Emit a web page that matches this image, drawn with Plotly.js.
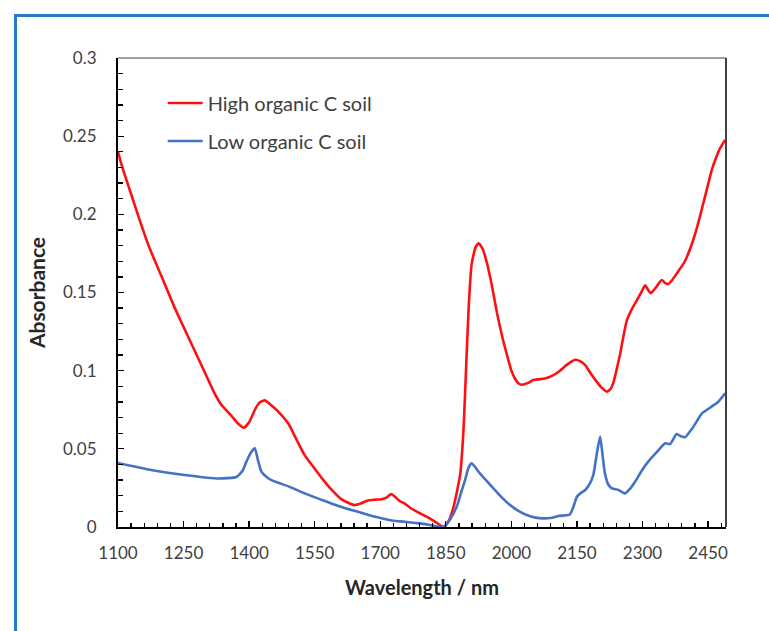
<!DOCTYPE html>
<html>
<head>
<meta charset="utf-8">
<script src="https://cdn.plot.ly/plotly-3.0.1.min.js"></script>
<style>
  html, body { margin: 0; padding: 0; background: #ffffff; }
  #wrap { position: relative; width: 769px; height: 631px; overflow: hidden; }
  #chart { position: absolute; left: 0; top: 0; width: 769px; height: 631px; }
  #frame { position: absolute; left: 14px; top: 14px; width: 900px; height: 800px;
           border: 3px solid #2A78C9; pointer-events: none; }
</style>
</head>
<body>
<div id="wrap">
  <div id="chart"></div>
  <div id="frame"></div>
</div>
<script>
// High organic C soil
const wlHigh = [1100,1110,1130,1150,1170,1200,1230,1250,1280,1300,1320,1337,1360,1375,1388,1400,1415,1425,1436,1450,1466,1490,1510,1527,1551,1570,1588,1610,1630,1641,1655,1672,1690,1703,1715,1725,1735,1745,1756,1770,1786,1806,1825,1845,1855,1867,1875,1883,1890,1894,1902,1909,1918,1925,1934,1944,1955,1967,1978,1989,2000,2008,2016,2024,2037,2050,2064,2077,2095,2111,2128,2146,2158,2169,2182,2195,2207,2218,2226,2233,2241,2249,2257,2264,2275,2287,2297,2306,2312,2319,2330,2344,2352,2359,2368,2378,2397,2416,2428,2439,2449,2458,2468,2477,2489];
const absHigh = [0.240,0.230,0.213,0.196,0.180,0.160,0.140,0.128,0.110,0.098,0.086,0.078,0.071,0.066,0.0635,0.067,0.076,0.080,0.081,0.078,0.074,0.066,0.055,0.046,0.037,0.030,0.024,0.018,0.015,0.014,0.015,0.017,0.0175,0.0178,0.019,0.021,0.019,0.0165,0.015,0.012,0.0095,0.0066,0.0035,0.0,0.003,0.012,0.022,0.034,0.060,0.085,0.139,0.168,0.179,0.1815,0.178,0.169,0.155,0.137,0.123,0.111,0.100,0.095,0.092,0.091,0.092,0.094,0.0945,0.095,0.097,0.100,0.104,0.107,0.106,0.1036,0.098,0.093,0.089,0.0866,0.088,0.092,0.101,0.111,0.123,0.132,0.139,0.145,0.150,0.1546,0.152,0.1495,0.153,0.158,0.156,0.1554,0.158,0.162,0.170,0.1836,0.195,0.207,0.218,0.228,0.236,0.242,0.2476];

// Low organic C soil
const wlLow = [1100,1176,1253,1329,1371,1385,1394,1405,1413,1420,1428,1440,1451,1490,1527,1560,1588,1620,1649,1675,1703,1730,1756,1791,1820,1844,1860,1875,1885,1894,1902,1909,1918,1928,1945,1959,1978,1997,2015,2035,2055,2073,2090,2108,2125,2134,2142,2150,2160,2169,2180,2188,2196,2203,2209,2214,2222,2230,2245,2260,2270,2283,2296,2310,2333,2352,2363,2378,2388,2397,2416,2436,2458,2473,2489];
const absLow = [0.041,0.0365,0.0333,0.031,0.032,0.036,0.042,0.048,0.0503,0.043,0.0354,0.032,0.030,0.026,0.0215,0.018,0.015,0.012,0.0098,0.0075,0.0056,0.004,0.0034,0.0023,0.001,0.0,0.005,0.013,0.022,0.030,0.038,0.0407,0.038,0.0343,0.029,0.0247,0.019,0.014,0.0105,0.0077,0.006,0.0055,0.0058,0.007,0.0075,0.008,0.013,0.0194,0.022,0.0237,0.028,0.034,0.048,0.0578,0.045,0.0343,0.027,0.0247,0.0237,0.0215,0.024,0.029,0.035,0.0407,0.048,0.0535,0.053,0.0595,0.058,0.0574,0.064,0.0727,0.077,0.080,0.0855];

const seriesNames = ["High organic C soil", "Low organic C soil"];
const xTickVals = [1100,1250,1400,1550,1700,1850,2000,2150,2300,2450];
const yTickVals = [0,0.05,0.1,0.15,0.2,0.25,0.3];
const yTickText = ["0","0.05","0.1","0.15","0.2","0.25","0.3"];

const FONT = "Lato, 'Open Sans', sans-serif";

const traces = [
  { x: wlHigh, y: absHigh, name: seriesNames[0], type: "scatter", mode: "lines", legend: "legend",
    line: { color: "#FF1010", width: 2.6, shape: "spline", smoothing: 0.5 } },
  { x: wlLow, y: absLow, name: seriesNames[1], type: "scatter", mode: "lines", legend: "legend2",
    line: { color: "#4472C4", width: 2.6, shape: "spline", smoothing: 0.5 } }
];

const legendCommon = {
  xanchor: "left", yanchor: "middle", bgcolor: "rgba(0,0,0,0)",
  font: { family: FONT, size: 20, color: "#404040" }, itemwidth: 35
};

const layout = {
  width: 769, height: 631,
  paper_bgcolor: "#ffffff", plot_bgcolor: "#ffffff",
  margin: { l: 118, r: 43, t: 58, b: 104, pad: 0 },
  font: { family: FONT, color: "#404040", size: 17 },
  showlegend: true,
  legend: Object.assign({ x: 0.0735, y: 0.904 }, legendCommon),
  legend2: Object.assign({ x: 0.0735, y: 0.823 }, legendCommon),
  xaxis: {
    range: [1100, 2491], tickmode: "array", tickvals: xTickVals,
    ticks: "inside", ticklen: 6, tickwidth: 1.3, tickcolor: "#000",
    minor: { tick0: 1100, dtick: 30, ticks: "inside", ticklen: 4, tickwidth: 1.3, tickcolor: "#000", showgrid: false },
    showline: true, linecolor: "#000", linewidth: 2, mirror: false,
    showgrid: false, zeroline: false,
    tickfont: { family: FONT, size: 17, color: "#404040" },
    ticklabelstandoff: 10,
    title: { text: "<b>Wavelength / nm</b>", font: { family: FONT, size: 20, color: "#262626" }, standoff: 19 }
  },
  yaxis: {
    range: [0, 0.3], tickmode: "array", tickvals: yTickVals, ticktext: yTickText,
    ticks: "inside", ticklen: 6, tickwidth: 1.3, tickcolor: "#000",
    minor: { tick0: 0, dtick: 0.01, ticks: "inside", ticklen: 5, tickwidth: 1.3, tickcolor: "#000", showgrid: false },
    showline: true, linecolor: "#000", linewidth: 2, mirror: false,
    showgrid: false, zeroline: false,
    tickfont: { family: FONT, size: 17, color: "#404040" },
    ticklabelstandoff: 16,
    title: { text: "<b>Absorbance</b>", font: { family: FONT, size: 21, color: "#262626" }, standoff: 12 }
  },
  shapes: [
    { type: "line", xref: "paper", yref: "paper", x0: 0, x1: 1, y0: 1, y1: 1, line: { color: "#7f7f7f", width: 1.5 } },
    { type: "line", xref: "paper", yref: "paper", x0: 1, x1: 1, y0: 0, y1: 1, line: { color: "#404040", width: 2 } }
  ]
};

Plotly.newPlot("chart", traces, layout, { displayModeBar: false, staticPlot: true });
</script>
</body>
</html>
